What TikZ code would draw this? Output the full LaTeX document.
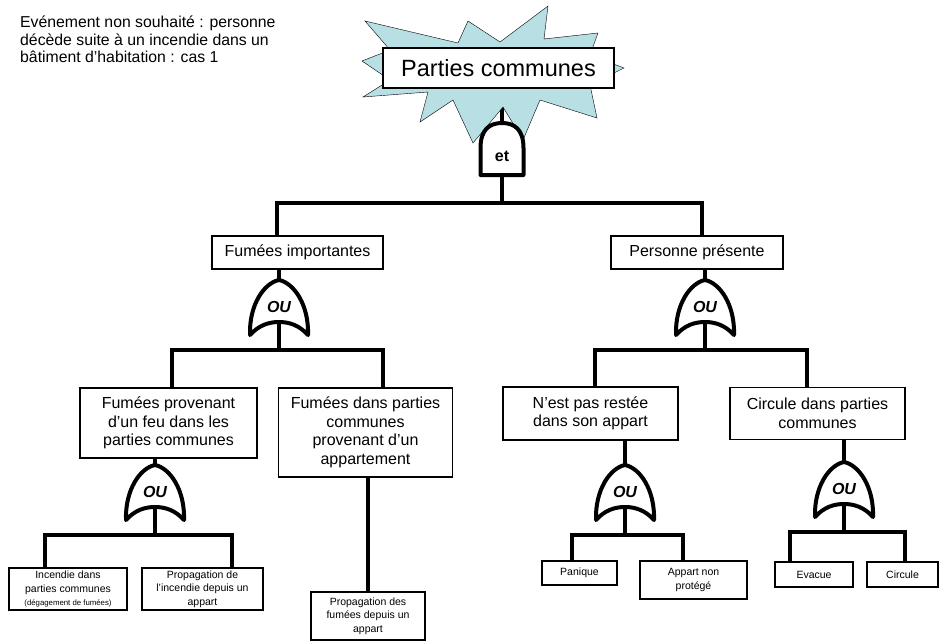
\documentclass[tikz,border=0pt]{standalone}
\usepackage{fontspec}
\setmainfont{Liberation Sans}
\usetikzlibrary{backgrounds,calc}

\tikzset{
  box/.style={draw,line width=1.8pt,fill=white,align=center,inner sep=0pt,
    font=\fontsize{16}{18.5}\selectfont},
  smallbox/.style={box,font=\fontsize{10.5}{13.5}\selectfont},
  conn/.style={line width=4.8pt},
  gateline/.style={line width=4pt,line join=round,fill=white},
  gatetext/.style={inner sep=0pt,font=\fontsize{16}{16}\selectfont\bfseries\itshape},
  pics/orgate/.style={code={
    \draw[gateline] (-29,55) .. controls (-30,25) and (-15,3) .. (0,0)
      .. controls (15,3) and (30,25) .. (29,55)
      .. controls (20,45) and (10,42) .. (0,42)
      .. controls (-10,42) and (-20,45) .. (-29,55) -- cycle;
    \node[gatetext] at (0,27) {OU};
    \coordinate (-in) at (0,0);
    \coordinate (-out) at (0,42);
    \coordinate (-bar) at (0,70);
  }},
  pics/andgate/.style={code={
    \draw[gateline] (-21.5,52) -- (-21.5,25) .. controls (-21.5,6) and (-12,0) .. (0,0)
      .. controls (12,0) and (21.5,6) .. (21.5,25) -- (21.5,52) -- cycle;
    \node[gatetext,font=\fontsize{16}{16}\selectfont\bfseries] at (0,33) {et};
    \coordinate (-in) at (0,0);
    \coordinate (-out) at (0,52);
    \coordinate (-bar) at (0,80);
  }}
}

\begin{document}
\begin{tikzpicture}[x=1pt,y=-1pt]
\begin{scope}[on background layer]
  \fill[white] (0,0) rectangle (941,641);
\end{scope}
\useasboundingbox (0,0) rectangle (941,641);

% titre
\node[anchor=north west,align=left,inner sep=0pt,
  font=\fontsize{15.8}{17.5}\selectfont] (titre) at (20,16)
  {Evénement non souhaité : personne\\décède suite à un incendie dans un\\bâtiment d’habitation : cas 1};

% evenement de tete
\draw[thin,fill={rgb,255:red,184;green,223;blue,228}]
  (365,21) -- (458,43) -- (468,21) -- (500,42) -- (548,6) -- (544,39) -- (598,33)
  -- (590,55) -- (624,68) -- (590,85) -- (597,118) -- (540,100) -- (523,140)
  -- (503,107) -- (473,143) -- (453,100) -- (420,122) -- (428,92) -- (363,97)
  -- (390,80) -- (362,61) -- (390,50) -- cycle;
\node[box,line width=1.5pt,font=\fontsize{23.5}{26}\selectfont,
  minimum width=231,minimum height=40] (top) at (498.5,68) {Parties communes};

% niveau 1
\node[box,minimum width=171,minimum height=33] (fi) at (297.5,252.5) {Fumées importantes};
\node[box,minimum width=172,minimum height=33] (pp) at (697,252.5) {Personne présente};

% niveau 2
\node[box,minimum width=177,minimum height=70] (fpf) at (168.5,423)
  {Fumées provenant\\d’un feu dans les\\parties communes};
\node[box,minimum width=174,minimum height=89] (fda) at (365.5,432.5)
  {Fumées dans parties\\communes\\provenant d’un\\appartement};
\node[box,minimum width=175,minimum height=53] (npr) at (590.5,413.5)
  {N’est pas restée\\dans son appart};
\node[box,minimum width=175,minimum height=52] (cpc) at (817.5,413.5)
  {Circule dans parties\\communes};

% niveau 3
\node[smallbox,minimum width=118,minimum height=42] (idp) at (68,589)
  {Incendie dans\\parties communes\\{\fontsize{7.8}{9}\selectfont(dégagement de fumées)}};
\node[smallbox,minimum width=121,minimum height=42] (pia) at (202.5,589)
  {Propagation de\\l’incendie depuis un\\appart};
\node[smallbox,minimum width=114,minimum height=48] (pfa) at (368,616)
  {Propagation des\\fumées depuis un\\appart};
\node[smallbox,minimum width=75,minimum height=24] (pan) at (579.5,573) {Panique};
\node[smallbox,minimum width=107,minimum height=38] (anp) at (693.5,580)
  {Appart non\\protégé};
\node[smallbox,minimum width=78,minimum height=25] (eva) at (814,574.5) {Evacue};
\node[smallbox,minimum width=71,minimum height=25] (cir) at (902.5,574.5) {Circule};

% portes
\pic (g0) at (502,123) {andgate};
\pic (g1) at (279,280) {orgate};
\pic (g2) at (705,280) {orgate};
\pic (g3) at (155,465) {orgate};
\pic (g4) at (625,465) {orgate};
\pic (g5) at (844,462) {orgate};

% liaisons
\begin{scope}[on background layer]
  \draw[conn] (g0-in |- top.south) -- (g0-in);
\end{scope}
\draw[conn] (g0-out) -- (g0-bar);
\draw[conn] ([xshift=-20.5]fi.north) |- (g0-bar) -| ([xshift=5]pp.north);

\draw[conn] (g1-in |- fi.south) -- (g1-in);
\draw[conn] (g1-out) -- (g1-bar);
\draw[conn] ([xshift=3.5]fpf.north) |- (g1-bar) -| ([xshift=17.5]fda.north);

\draw[conn] (g2-in |- pp.south) -- (g2-in);
\draw[conn] (g2-out) -- (g2-bar);
\draw[conn] ([xshift=4.5]npr.north) |- (g2-bar) -| ([xshift=-10.5]cpc.north);

\draw[conn] (g3-in |- fpf.south) -- (g3-in);
\draw[conn] (g3-out) -- (g3-bar);
\draw[conn] ([xshift=-23]idp.north) |- (g3-bar) -| ([xshift=29.5]pia.north);

\draw[conn] (pfa.north |- fda.south) -- (pfa.north);

\draw[conn] (g4-in |- npr.south) -- (g4-in);
\draw[conn] (g4-out) -- (g4-bar);
\draw[conn] ([xshift=-7.5]pan.north) |- (g4-bar) -| ([xshift=-10.5]anp.north);

\draw[conn] (g5-in |- cpc.south) -- (g5-in);
\draw[conn] (g5-out) -- (g5-bar);
\draw[conn] ([xshift=-24]eva.north) |- (g5-bar) -| ([xshift=2.5]cir.north);
\end{tikzpicture}
\end{document}
